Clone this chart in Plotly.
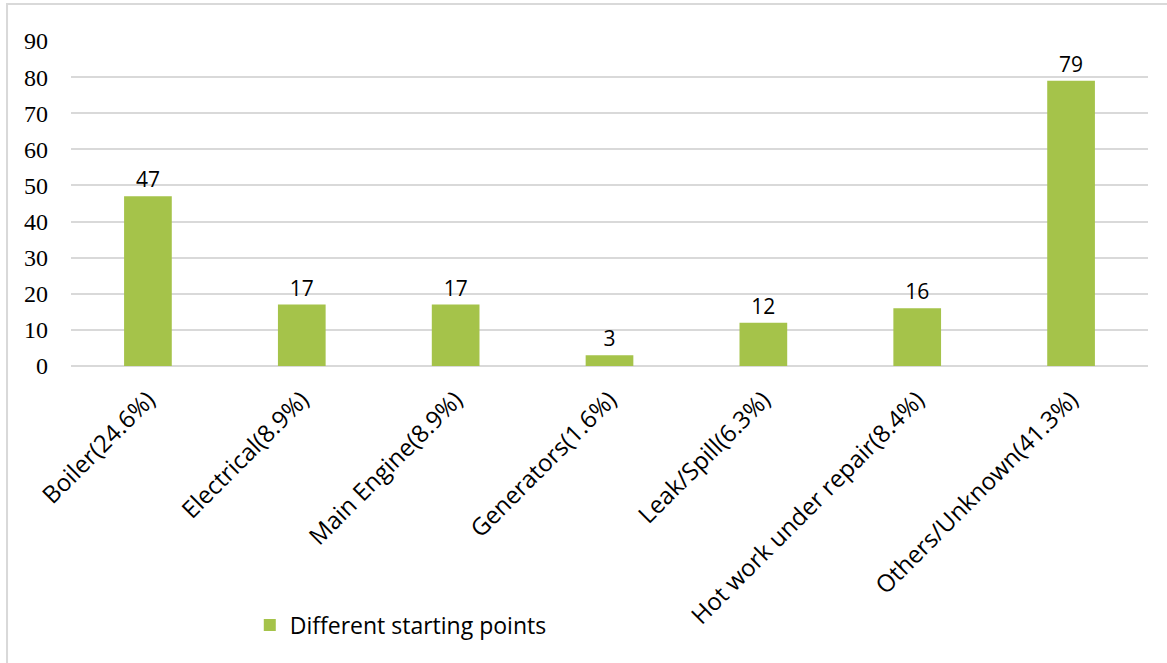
import plotly.graph_objects as go

# Fire starting points by location
categories = [
    "Boiler(24.6%)",
    "Electrical(8.9%)",
    "Main Engine(8.9%)",
    "Generators(1.6%)",
    "Leak/Spill(6.3%)",
    "Hot work under repair(8.4%)",
    "Others/Unknown(41.3%)",
]
counts = [47, 17, 17, 3, 12, 16, 79]
series_name = "Different starting points"
y_ticks = [0, 10, 20, 30, 40, 50, 60, 70, 80, 90]

BAR_COLOR = "#a5c34a"
GRID_COLOR = "#d9d9d9"
SANS = '"Open Sans", sans-serif'
SERIF = '"Liberation Serif", serif'

fig = go.Figure(
    go.Bar(
        x=categories,
        y=counts,
        name=series_name,
        marker=dict(color=BAR_COLOR, line=dict(width=0)),
        width=0.31,
        text=[str(v) for v in counts],
        textposition="outside",
        cliponaxis=False,
        textfont=dict(family=SANS, size=21, color="#000000"),
        showlegend=True,
    )
)

fig.update_layout(
    width=1167,
    height=663,
    margin=dict(l=71, r=19, t=41, b=297),
    paper_bgcolor="white",
    plot_bgcolor="white",
    font=dict(family=SERIF, size=24, color="#000000"),
    xaxis=dict(
        tickangle=-45,
        tickfont=dict(family=SANS, size=24, color="#000000"),
        showgrid=False,
        showline=False,
        ticks="",
        ticklabelstandoff=14,
        automargin=False,
    ),
    yaxis=dict(
        range=[0, 90],
        tickvals=y_ticks,
        tickfont=dict(family=SERIF, size=24, color="#000000"),
        showgrid=True,
        gridcolor=GRID_COLOR,
        gridwidth=1.5,
        zeroline=True,
        zerolinecolor=GRID_COLOR,
        zerolinewidth=1.5,
        showline=False,
        ticks="",
        ticklabelstandoff=22,
        automargin=False,
    ),
    legend=dict(
        x=0.166,
        y=-0.797,
        xanchor="left",
        yanchor="middle",
        font=dict(family=SANS, size=23, color="#000000"),
        bgcolor="rgba(0,0,0,0)",
        itemwidth=30,
    ),
    shapes=[
        dict(
            type="rect",
            xref="paper",
            yref="paper",
            x0=-0.0594,
            x1=1.2,
            y0=-1.2,
            y1=1.1138,
            line=dict(color=GRID_COLOR, width=2),
            fillcolor="rgba(0,0,0,0)",
            layer="below",
        )
    ],
)

fig.write_html("out.html")
